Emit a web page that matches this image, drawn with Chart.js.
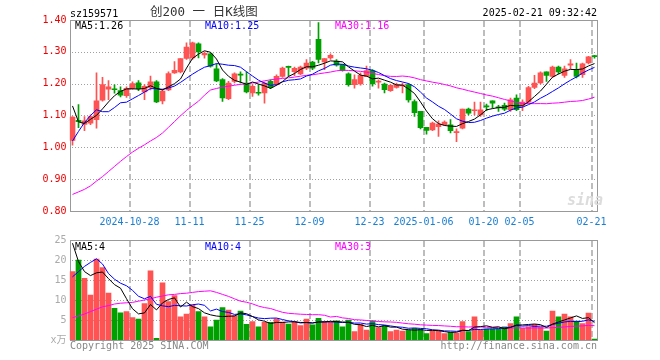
<!DOCTYPE html>
<html>
<head>
<meta charset="utf-8">
<script src="https://cdn.jsdelivr.net/npm/chart.js@4.4.1/dist/chart.umd.min.js"></script>
<style>
    body { margin: 0; background: #fff; width: 660px; height: 360px; position: relative; overflow: hidden;
           font-family: "DejaVu Sans Mono", "Noto Sans CJK SC", monospace; font-size: 10px; }
    .txt { position: absolute; white-space: nowrap; line-height: 1; }
    #k-canvas { position: absolute; left: 0; top: 0; }
    #v-canvas { position: absolute; left: 0; top: 230px; }
</style>
</head>
<body>
<canvas id="k-canvas" width="660" height="230"></canvas>
<canvas id="v-canvas" width="660" height="130"></canvas>

<div class="txt" style="left:70px;top:9px;color:#000">sz159571</div>
<div class="txt" style="left:150px;top:6px;font-size:12.5px;color:#333">创200 一 日K线图</div>
<div class="txt" style="right:63px;top:8px;color:#000">2025-02-21 09:32:42</div>

<div class="txt" style="left:75px;top:21px;color:#000">MA5:1.26</div>
<div class="txt" style="left:205px;top:21px;color:#0000ff">MA10:1.25</div>
<div class="txt" style="left:335px;top:21px;color:#ff00ff">MA30:1.16</div>

<div class="txt" style="left:567px;top:193px;font-size:15px;font-style:italic;font-weight:bold;color:#dcdcdc">sina</div>

<div class="txt" style="left:75px;top:242px;color:#000">MA5:4</div>
<div class="txt" style="left:205px;top:242px;color:#0000ff">MA10:4</div>
<div class="txt" style="left:335px;top:242px;color:#ff00ff">MA30:3</div>

<div class="txt" style="left:70px;top:341px;color:#888">Copyright 2025 SINA.COM</div>
<div class="txt" style="right:63px;top:341px;color:#888">http://finance.sina.com.cn</div>

<script>
// ---------- data ----------
// one entry per trading day, 2024-10-14 .. 2025-02-21
const tickLabels = { 10: '2024-10-28', 20: '11-11', 30: '11-25', 40: '12-09', 50: '12-23',
                     59: '2025-01-06', 69: '01-20', 75: '02-05', 87: '02-21' };

const opens = [
    1.022, 1.085, 1.072, 1.076, 1.087, 1.148, 1.183, 1.184, 1.178, 1.162,
    1.185, 1.203, 1.174, 1.188, 1.206, 1.146, 1.180, 1.234, 1.237, 1.279,
    1.281, 1.325, 1.290, 1.294, 1.247, 1.213, 1.153, 1.207, 1.229, 1.202,
    1.171, 1.172, 1.171, 1.207, 1.197, 1.223, 1.253, 1.238, 1.231, 1.249,
    1.268, 1.339, 1.268, 1.281, 1.271, 1.260, 1.231, 1.197, 1.199, 1.223,
    1.241, 1.205, 1.199, 1.178, 1.188, 1.193, 1.197, 1.144, 1.113, 1.063,
    1.055, 1.065, 1.071, 1.071, 1.046, 1.060, 1.120, 1.115, 1.102, 1.129,
    1.146, 1.126, 1.132, 1.118, 1.155, 1.132, 1.142, 1.188, 1.202, 1.237,
    1.223, 1.252, 1.226, 1.258, 1.244, 1.228, 1.265, 1.287];

const highs = [
    1.097, 1.134, 1.097, 1.102, 1.234, 1.220, 1.210, 1.196, 1.190, 1.190,
    1.206, 1.210, 1.197, 1.224, 1.210, 1.183, 1.237, 1.269, 1.279, 1.328,
    1.331, 1.328, 1.300, 1.296, 1.262, 1.216, 1.207, 1.234, 1.237, 1.237,
    1.197, 1.197, 1.205, 1.212, 1.228, 1.252, 1.255, 1.252, 1.255, 1.276,
    1.270, 1.392, 1.279, 1.294, 1.276, 1.260, 1.234, 1.228, 1.234, 1.255,
    1.244, 1.212, 1.202, 1.197, 1.202, 1.202, 1.200, 1.149, 1.113, 1.063,
    1.079, 1.083, 1.083, 1.087, 1.058, 1.120, 1.123, 1.142, 1.142, 1.136,
    1.146, 1.132, 1.139, 1.155, 1.165, 1.149, 1.192, 1.226, 1.237, 1.237,
    1.255, 1.255, 1.255, 1.276, 1.265, 1.265, 1.286, 1.289];

const lows = [
    1.007, 1.062, 1.052, 1.071, 1.060, 1.145, 1.150, 1.170, 1.158, 1.157,
    1.182, 1.178, 1.150, 1.180, 1.140, 1.136, 1.178, 1.232, 1.234, 1.276,
    1.276, 1.281, 1.280, 1.252, 1.206, 1.144, 1.150, 1.202, 1.202, 1.171,
    1.160, 1.164, 1.139, 1.184, 1.195, 1.220, 1.223, 1.225, 1.228, 1.244,
    1.244, 1.265, 1.244, 1.276, 1.255, 1.239, 1.192, 1.186, 1.195, 1.223,
    1.192, 1.186, 1.171, 1.176, 1.186, 1.171, 1.142, 1.097, 1.058, 1.041,
    1.052, 1.034, 1.069, 1.045, 1.018, 1.058, 1.102, 1.102, 1.097, 1.115,
    1.123, 1.113, 1.115, 1.113, 1.115, 1.115, 1.139, 1.184, 1.199, 1.207,
    1.220, 1.231, 1.220, 1.247, 1.218, 1.220, 1.262, 1.280];

const closes = [
    1.095, 1.081, 1.083, 1.097, 1.146, 1.197, 1.190, 1.181, 1.164, 1.185,
    1.200, 1.184, 1.192, 1.206, 1.143, 1.177, 1.232, 1.242, 1.279, 1.315,
    1.328, 1.300, 1.295, 1.255, 1.209, 1.155, 1.202, 1.231, 1.227, 1.174,
    1.192, 1.170, 1.202, 1.188, 1.223, 1.249, 1.251, 1.248, 1.252, 1.265,
    1.249, 1.276, 1.279, 1.289, 1.258, 1.241, 1.197, 1.213, 1.226, 1.241,
    1.199, 1.208, 1.181, 1.195, 1.197, 1.196, 1.149, 1.109, 1.062, 1.053,
    1.076, 1.073, 1.079, 1.052, 1.048, 1.120, 1.107, 1.117, 1.118, 1.127,
    1.139, 1.124, 1.120, 1.149, 1.118, 1.142, 1.188, 1.202, 1.234, 1.226,
    1.252, 1.237, 1.247, 1.262, 1.223, 1.262, 1.284, 1.285];

// volume, in 万
const volumes = [
    17.1, 20.0, 15.4, 11.25, 20.25, 18.1, 11.7, 7.9, 6.8, 7.1,
    5.6, 5.25, 9.1, 17.3, 0.4, 14.3, 9.6, 11.1, 5.8, 6.5,
    8.75, 7.1, 5.8, 3.3, 5.0, 8.1, 7.5, 6.1, 7.25, 3.9,
    4.6, 3.3, 4.4, 4.4, 5.3, 4.5, 4.0, 4.5, 3.6, 5.2,
    3.8, 5.4, 4.6, 4.4, 4.8, 3.3, 5.0, 2.1, 3.9, 2.5,
    4.8, 3.1, 3.6, 2.1, 2.5, 2.25, 2.5, 2.9, 2.75, 1.6,
    2.25, 2.25, 1.6, 1.9, 1.7, 4.6, 2.1, 5.8, 2.5, 2.75,
    2.75, 2.75, 3.3, 4.1, 5.8, 2.9, 3.3, 3.9, 3.25, 2.25,
    7.25, 5.8, 6.5, 5.8, 4.75, 4.1, 6.75, 0.25];

// MA values on the first days (their window starts before the visible range)
const ma5Head = [1.130, 1.080, 1.075, 1.088];
const ma10Head = [1.020, 1.050, 1.078, 1.100, 1.118, 1.112, 1.112, 1.125, 1.140];
const ma30Head = [
    0.852, 0.860, 0.868, 0.879, 0.894, 0.908, 0.924, 0.940, 0.956, 0.971,
    0.985, 0.997, 1.008, 1.020, 1.031, 1.045, 1.063, 1.081, 1.099, 1.116,
    1.131, 1.145, 1.164, 1.180, 1.185, 1.189, 1.192, 1.195, 1.198];
const volMa5Head = [24.2, 19.6, 17.1, 16.1];
const volMa10Head = [15.8, 17.1, 18.4, 19.4, 20.3, 19.0, 16.6, 15.2, 14.2];
const volMa30Head = [
    5.6, 6.0, 6.5, 7.1, 7.7, 8.3, 8.6, 9.0, 9.2, 9.3,
    9.4, 9.7, 10.0, 10.3, 10.7, 11.0, 11.3, 11.4, 11.6, 11.7,
    11.9, 12.1, 12.2, 12.3, 11.9, 11.4, 10.9, 10.3, 9.7];

// ---------- helpers ----------
const RED = '#ff5353';
const GREEN = '#00a000';
const MONO = '"DejaVu Sans Mono", "Noto Sans CJK SC", monospace';

// moving average of the shown series, head values used until the window is full
function movingAvg(src, n, head) {
    return src.map((v, i) => {
        if (i < n - 1) return head[i];
        let s = 0;
        for (let j = i - n + 1; j <= i; j++) s += src[j];
        return s / n;
    });
}

const labels = closes.map((c, i) => tickLabels[i] || '');
const candleColors = closes.map((c, i) => c >= opens[i] ? RED : GREEN);
const datedDays = Object.keys(tickLabels).map(Number);

// dotted / dashed grid + gray box, placed with the chart's own scales
// (dashes are drawn as small rects, setLineDash does not show up here)
const frame = {
    id: 'frame',
    beforeDatasetsDraw(chart) {
        const a = chart.chartArea, ctx = chart.ctx;
        const xs = chart.scales.x, ys = chart.scales.y;
        const left = Math.round(a.left), top = Math.round(a.top);
        const right = Math.floor(a.right), bottom = Math.round(a.bottom);
        ctx.save();
        // horizontal dotted lines
        ctx.fillStyle = '#a0a0a0';
        ys.ticks.forEach(tk => {
            if (tk.value <= ys.min + 1e-6 || tk.value >= ys.max - 1e-6) return;
            const y = Math.round(ys.getPixelForValue(tk.value));
            for (let x = left + 2; x < right; x += 3) ctx.fillRect(x, y, 1, 1);
        });
        // vertical dashed lines at the dated days (just left of that day's bar)
        ctx.fillStyle = '#bdbdbd';
        datedDays.forEach(idx => {
            const gx = Math.floor(xs.getPixelForValue(idx) - 3.5);
            for (let y = top + 1; y < bottom; y += 9) ctx.fillRect(gx, y, 2, Math.min(6, bottom - y));
        });
        // frame
        ctx.strokeStyle = '#999999';
        ctx.lineWidth = 1;
        ctx.strokeRect(left + 0.5, top + 0.5, right - left, bottom - top);
        ctx.restore();
    }
};

function xAxis(showLabels) {
    return {
        offset: true,
        afterFit: (s) => { s.height = showLabels ? 19 : 0; },
        grid: { display: false, drawTicks: false },
        border: { display: false },
        ticks: {
            display: showLabels,
            autoSkip: false,
            maxRotation: 0,
            minRotation: 0,
            labelOffset: -3,
            padding: 5,
            color: '#1a7fd4',
            font: { family: MONO, size: 10 }
        }
    };
}

function yAxis(min, max, step, color, cb) {
    return {
        min: min, max: max,
        afterFit: (s) => { s.width = 69.5; },
        grid: { display: false, drawTicks: false },
        border: { display: false },
        ticks: { stepSize: step, padding: 3, color: color, font: { family: MONO, size: 10 }, callback: cb }
    };
}

function lineSet(data, color) {
    return { type: 'line', data: data, borderColor: color, borderWidth: 1, pointRadius: 0,
             tension: 0, fill: false, order: 0 };
}

Chart.defaults.animation = false;
Chart.defaults.events = [];
Chart.defaults.plugins.legend.display = false;
Chart.defaults.plugins.tooltip.enabled = false;

// ********************** K line chart ********************** //
new Chart(document.getElementById('k-canvas'), {
    type: 'bar',
    data: {
        labels: labels,
        datasets: [
            lineSet(movingAvg(closes, 5, ma5Head), '#000000'),
            lineSet(movingAvg(closes, 10, ma10Head), '#0000ff'),
            lineSet(movingAvg(closes, 30, ma30Head), '#ff00ff'),
            {   // bodies
                data: opens.map((o, i) => [o, closes[i]]),
                backgroundColor: candleColors,
                barThickness: 5, minBarLength: 1, grouped: false, order: 1
            },
            {   // wicks
                data: lows.map((l, i) => [l, highs[i]]),
                backgroundColor: candleColors,
                barThickness: 1, grouped: false, order: 2
            }
        ]
    },
    options: {
        responsive: false,
        devicePixelRatio: 1,
        layout: { padding: { left: 0, right: 62.5, top: 20, bottom: 0 } },
        scales: {
            x: xAxis(true),
            y: yAxis(0.8, 1.4, 0.1, '#ee0000', (v) => Number(v).toFixed(2))
        }
    },
    plugins: [frame]
});

// ********************** Volume chart ********************** //
new Chart(document.getElementById('v-canvas'), {
    type: 'bar',
    data: {
        labels: labels,
        datasets: [
            lineSet(movingAvg(volumes, 5, volMa5Head), '#000000'),
            lineSet(movingAvg(volumes, 10, volMa10Head), '#0000ff'),
            lineSet(movingAvg(volumes, 30, volMa30Head), '#ff00ff'),
            { data: volumes, backgroundColor: candleColors, barThickness: 5, order: 1 }
        ]
    },
    options: {
        responsive: false,
        devicePixelRatio: 1,
        layout: { padding: { left: 0, right: 62.5, top: 10, bottom: 20 } },
        scales: {
            x: xAxis(false),
            y: yAxis(0, 25, 5, '#aaaaaa', (v) => v === 0 ? 'x万' : v)
        }
    },
    plugins: [frame]
});
</script>
</body>
</html>
